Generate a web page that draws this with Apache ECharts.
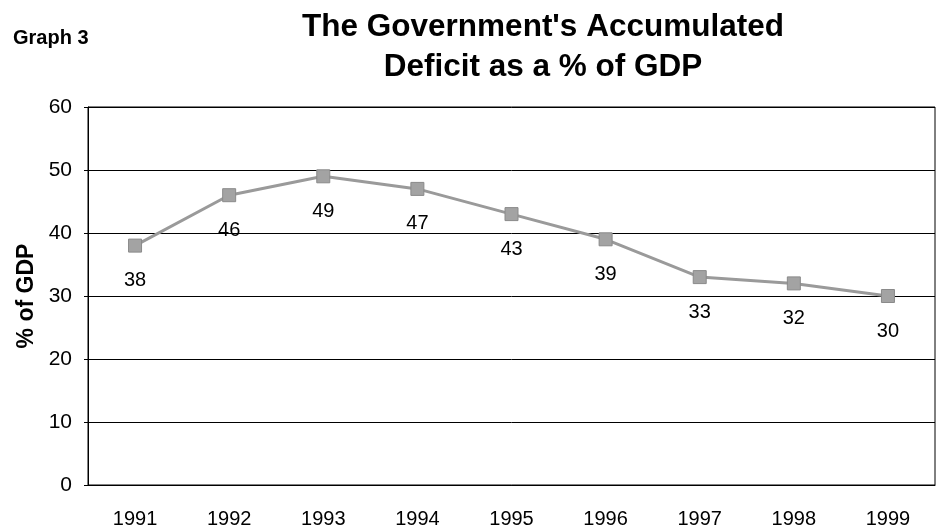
<!DOCTYPE html>
<html>
<head>
<meta charset="utf-8">
<script src="https://cdn.jsdelivr.net/npm/echarts@6/dist/echarts.min.js"></script>
<style>
  html, body { margin: 0; padding: 0; background: #fff; }
  #chart { width: 938px; height: 529px; }
</style>
</head>
<body>
<div id="chart"></div>
<script>
// Accumulated government deficit, share of GDP, by year
const years = ['1991', '1992', '1993', '1994', '1995', '1996', '1997', '1998', '1999'];
const deficitPct = [38, 46, 49, 47, 43, 39, 33, 32, 30];
const yTicks = { min: 0, max: 60, interval: 10 };

const FONT = '"Liberation Sans", Arial, sans-serif';

const chart = echarts.init(document.getElementById('chart'), null, { renderer: 'canvas' });

chart.setOption({
  backgroundColor: '#ffffff',
  animation: false,
  title: [
    {
      text: 'Graph 3',
      left: 8,
      top: 23,
      textStyle: { fontFamily: FONT, fontSize: 20, fontWeight: 'bold', color: '#000' }
    },
    {
      text: "The Government's Accumulated\nDeficit as a % of GDP",
      left: 538,
      top: 2,
      textAlign: 'center',
      textStyle: {
        fontFamily: FONT, fontSize: 31.5, fontWeight: 'bold', color: '#000',
        lineHeight: 40, align: 'center'
      }
    }
  ],
  grid: {
    left: 88, right: 3, top: 107, bottom: 44,
    show: true, borderColor: '#000', borderWidth: 1
  },
  xAxis: {
    type: 'category',
    data: years,
    boundaryGap: true,
    axisLine: { show: true, lineStyle: { color: '#000', width: 1 } },
    axisTick: { show: false },
    axisLabel: {
      margin: 24,
      fontFamily: FONT, fontSize: 20, color: '#000'
    },
    splitLine: { show: false }
  },
  yAxis: {
    type: 'value',
    min: yTicks.min, max: yTicks.max, interval: yTicks.interval,
    name: '% of GDP',
    nameLocation: 'middle',
    nameRotate: 90,
    nameGap: 47,
    nameTextStyle: { fontFamily: FONT, fontSize: 23, fontWeight: 'bold', color: '#000' },
    axisLine: { show: true, lineStyle: { color: '#000', width: 1 } },
    axisTick: { show: true, length: 4, lineStyle: { color: '#000' } },
    axisLabel: { margin: 16, fontFamily: FONT, fontSize: 21, color: '#000' },
    splitLine: { show: true, lineStyle: { color: '#000', width: 1 } }
  },
  series: [{
    type: 'line',
    data: deficitPct,
    symbol: 'rect',
    symbolSize: 13,
    lineStyle: { color: '#9a9a9a', width: 3 },
    itemStyle: { color: '#a3a3a3', borderColor: '#8a8a8a', borderWidth: 1 },
    label: {
      show: true,
      position: 'bottom',
      distance: 18,
      fontFamily: FONT, fontSize: 20, color: '#000'
    }
  }]
});
</script>
</body>
</html>
